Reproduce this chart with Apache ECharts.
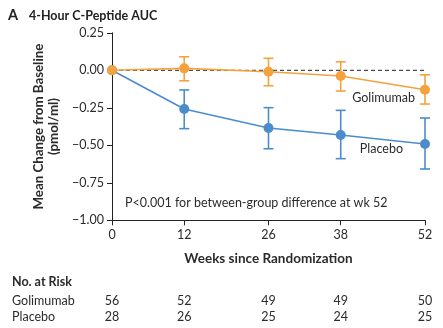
<!DOCTYPE html>
<html>
<head>
<meta charset="utf-8">
<script src="https://cdn.jsdelivr.net/npm/echarts@6/dist/echarts.min.js"></script>
<style>
  html, body { margin: 0; padding: 0; background: #fff; }
  #chart { width: 443px; height: 328px; }
</style>
</head>
<body>
<div id="chart"></div>
<script>
// Study weeks at which C-peptide AUC was measured
const weeks = [0, 12, 26, 38, 52];

// Mean change from baseline (pmol/ml) with error bar limits
const golimumabMean  = [0, 0.013, -0.01, -0.038, -0.13];
const golimumabUpper = [0, 0.09, 0.08, 0.057, -0.03];
const golimumabLower = [0, -0.07, -0.103, -0.138, -0.225];

const placeboMean  = [0, -0.258, -0.385, -0.431, -0.491];
const placeboUpper = [0, -0.131, -0.249, -0.267, -0.318];
const placeboLower = [0, -0.389, -0.523, -0.589, -0.658];

// Numbers at risk
const riskGroups = ['Golimumab', 'Placebo'];
const riskCounts = [
  [56, 52, 49, 49, 50],
  [28, 26, 25, 24, 25]
];

const yTicks = [0.25, 0, -0.25, -0.5, -0.75, -1.0];

const ORANGE = '#F3A23E';
const BLUE = '#4C8CCD';
const TEXT = '#2b2b2b';
const FONT = 'Lato';

const chart = echarts.init(document.getElementById('chart'), null, { renderer: 'canvas' });

function pairs(mean) { return weeks.map((w, i) => [w, mean[i]]); }
function errData(up, lo) { return weeks.map((w, i) => [w, up[i], lo[i]]).filter(d => d[1] !== d[2]); }

function errorBarRender(color) {
  return function (params, api) {
    const x = api.value(0);
    const top = api.coord([x, api.value(1)]);
    const bot = api.coord([x, api.value(2)]);
    const hw = 5;
    const style = { stroke: color, lineWidth: 1.6, fill: null };
    return {
      type: 'group',
      children: [
        { type: 'line', shape: { x1: top[0], y1: top[1], x2: bot[0], y2: bot[1] }, style },
        { type: 'line', shape: { x1: top[0] - hw, y1: top[1], x2: top[0] + hw, y2: top[1] }, style },
        { type: 'line', shape: { x1: bot[0] - hw, y1: bot[1], x2: bot[0] + hw, y2: bot[1] }, style }
      ]
    };
  };
}

function lineSeries(name, mean, color, labelOpts) {
  const data = pairs(mean).map((p, i) => {
    if (i === weeks.length - 1) {
      return { value: p, label: Object.assign({
        show: true, formatter: name, position: 'left',
        color: TEXT, fontFamily: FONT, fontSize: 12.5
      }, labelOpts) };
    }
    return { value: p };
  });
  return {
    type: 'line', name, data, z: 3,
    symbol: 'circle', symbolSize: 10,
    lineStyle: { color, width: 1.6 },
    itemStyle: { color },
    animation: false, silent: true
  };
}

chart.setOption({
  animation: false,
  grid: { left: 112, right: 18, top: 32.8, bottom: 107.7, containLabel: false },
  title: {
    text: '{a|A}{t|4-Hour C-Peptide AUC}',
    left: 3, top: 3,
    textStyle: {
      rich: {
        a: { fontFamily: FONT, fontSize: 14.5, fontWeight: 'bold', color: '#222', width: 21 },
        t: { fontFamily: FONT, fontSize: 12.5, fontWeight: 'bold', color: '#222' }
      }
    }
  },
  xAxis: {
    type: 'value', min: 0, max: 52,
    name: 'Weeks since Randomization',
    nameLocation: 'middle', nameGap: 31,
    nameTextStyle: { fontFamily: FONT, fontSize: 13.5, fontWeight: 'bold', color: TEXT },
    axisLine: { show: true, onZero: false, lineStyle: { color: '#222', width: 1 } },
    axisTick: { show: true, length: 5, customValues: weeks, lineStyle: { color: '#222' } },
    axisLabel: { customValues: weeks, margin: 8, fontFamily: FONT, fontSize: 12.5, color: TEXT },
    splitLine: { show: false }
  },
  yAxis: {
    type: 'value', min: -1.0, max: 0.25, interval: 0.25,
    name: 'Mean Change from Baseline\n(pmol/ml)',
    nameLocation: 'middle', nameGap: 50, nameRotate: 90,
    nameTextStyle: { fontFamily: FONT, fontSize: 13.3, fontWeight: 'bold', color: TEXT, lineHeight: 15 },
    axisLine: { show: true, onZero: false, lineStyle: { color: '#222', width: 1 } },
    axisTick: { show: true, length: 5, customValues: yTicks, lineStyle: { color: '#222' } },
    axisLabel: {
      customValues: yTicks, margin: 8, fontFamily: FONT, fontSize: 12.5, color: TEXT,
      formatter: v => v.toFixed(2).replace('-', '\u2212')
    },
    splitLine: { show: false }
  },
  series: [
    {
      // dashed reference at zero change
      type: 'line', data: [[0, 0], [52, 0]], symbol: 'none', z: 1,
      lineStyle: { color: '#222', width: 1, type: [4, 3] }, silent: true
    },
    {
      type: 'custom', name: 'Placebo error', z: 2,
      renderItem: errorBarRender(BLUE),
      data: errData(placeboUpper, placeboLower), encode: { x: 0, y: [1, 2] }
    },
    {
      type: 'custom', name: 'Golimumab error', z: 2,
      renderItem: errorBarRender(ORANGE),
      data: errData(golimumabUpper, golimumabLower), encode: { x: 0, y: [1, 2] }
    },
    lineSeries('Placebo', placeboMean, BLUE, { distance: 17, offset: [0, 5] }),
    lineSeries('Golimumab', golimumabMean, ORANGE, { distance: 5, offset: [0, 8] })
  ]
});

// Annotation and numbers-at-risk table, aligned with the week axis
const elements = [
  {
    type: 'text', left: 125, top: 196,
    style: { text: 'P<0.001 for between-group difference at wk 52', fontFamily: FONT, fontSize: 12.5, fill: TEXT }
  },
  {
    type: 'text', left: 12, top: 275,
    style: { text: 'No. at Risk', fontFamily: FONT, fontSize: 12.5, fontWeight: 'bold', fill: TEXT }
  }
];
const rowY = [301, 316.5];
riskGroups.forEach((g, r) => {
  elements.push({
    type: 'text', x: 12, y: rowY[r],
    style: { text: g, fontFamily: FONT, fontSize: 12.5, fill: TEXT, textVerticalAlign: 'middle' }
  });
  weeks.forEach((w, i) => {
    elements.push({
      type: 'text', x: chart.convertToPixel({ xAxisIndex: 0 }, w), y: rowY[r],
      style: { text: String(riskCounts[r][i]), fontFamily: FONT, fontSize: 12.5, fill: TEXT,
               textAlign: 'center', textVerticalAlign: 'middle' }
    });
  });
});
chart.setOption({ graphic: { elements } });
</script>
</body>
</html>
